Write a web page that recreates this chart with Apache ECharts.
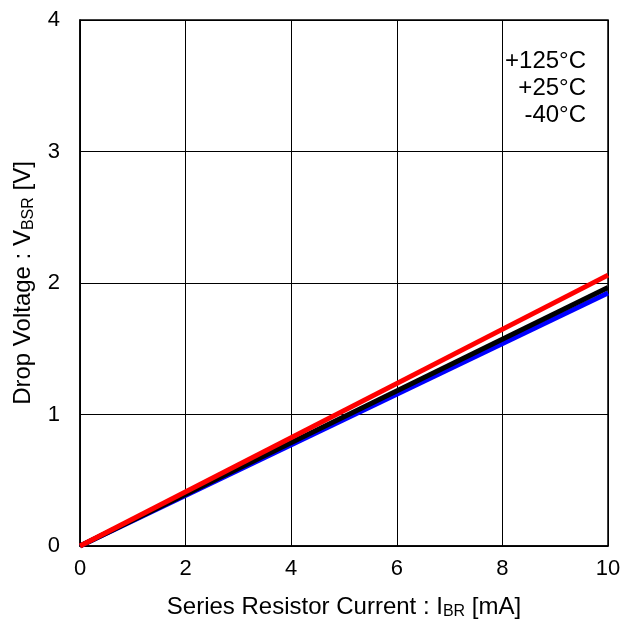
<!DOCTYPE html>
<html><head><meta charset="utf-8">
<script src="https://cdn.jsdelivr.net/npm/echarts@6/dist/echarts.min.js"></script>
<style>html,body{margin:0;padding:0;background:#fff}#c{width:637px;height:627px}</style>
</head><body><div id="c"></div>
<script>
const xValues = [0, 10];
const seriesNames = ['-40°C', '+25°C', '+125°C'];
const blueVals = [0, 1.924];
const blackVals = [0, 1.965];
const redVals = [0, 2.06];
const legendLabels = ['+125°C', '+25°C', '-40°C'];

const F = 'Liberation Sans, Arial, sans-serif';
const chart = echarts.init(document.getElementById('c'));
function pts(v){ return xValues.map((x,i)=>[x, v[i]]); }
const rich = {a:{fontSize:24,fontFamily:F,color:'#000'},s:{fontSize:16,fontFamily:F,color:'#000',verticalAlign:'bottom',padding:[10,0,0,0]}};
chart.setOption({
  animation:false,
  grid:{left:80,right:29,top:20,bottom:81,show:true,borderColor:'#000',borderWidth:1.5},
  xAxis:{type:'value',min:0,max:10,interval:2,
    axisLine:{show:true,lineStyle:{color:'#000',width:1.5}},axisTick:{show:false},
    splitLine:{show:true,lineStyle:{color:'#000',width:1}},
    axisLabel:{color:'#000',fontSize:22,fontFamily:F,margin:12},
    name:'{a|Series Resistor Current : I}{s|BR}{a| [mA]}',nameLocation:'middle',nameGap:48,
    nameTextStyle:{rich:rich}
  },
  yAxis:{type:'value',min:0,max:4,interval:1,
    axisLine:{show:true,lineStyle:{color:'#000',width:1.5}},axisTick:{show:false},
    splitLine:{show:true,lineStyle:{color:'#000',width:1}},
    axisLabel:{color:'#000',fontSize:22,fontFamily:F,margin:20},
    name:'{a|Drop Voltage : V}{s|BSR}{a| [V]}',nameLocation:'middle',nameGap:42,
    nameTextStyle:{rich:rich}
  },
  series:[
    {name:seriesNames[0],type:'line',data:pts(blueVals),symbol:'none',lineStyle:{color:'#0000ff',width:5}},
    {name:seriesNames[1],type:'line',data:pts(blackVals),symbol:'none',lineStyle:{color:'#000000',width:5}},
    {name:seriesNames[2],type:'line',data:pts(redVals),symbol:'none',lineStyle:{color:'#ff0000',width:5}}
  ],
  graphic:legendLabels.map((t,i)=>({type:'text',right:51,top:49+i*27,style:{text:t,fill:'#000',font:'24px '+F,textAlign:'right'}}))
});
</script></body></html>
